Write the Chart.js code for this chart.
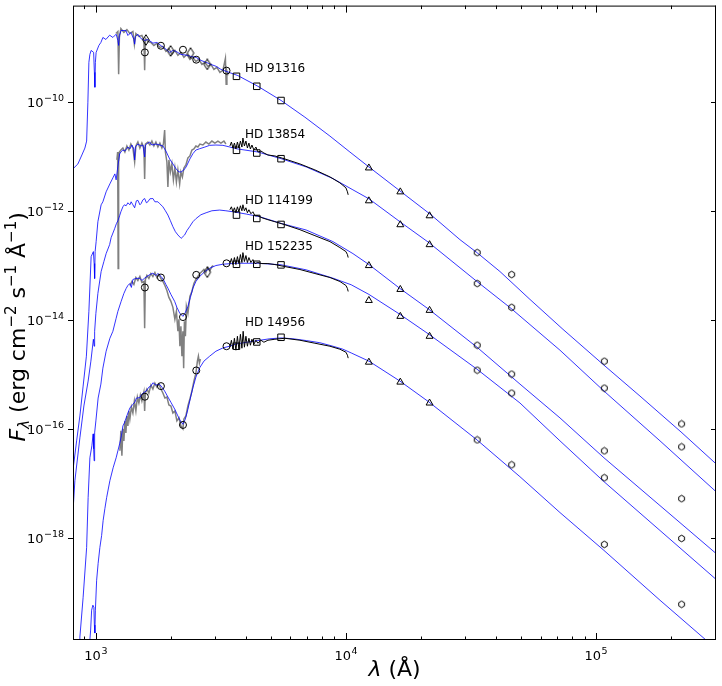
<!DOCTYPE html>
<html>
<head>
<meta charset="utf-8">
<script src="https://cdn.jsdelivr.net/npm/chart.js@4.4.0/dist/chart.umd.min.js"></script>
<style>
  html, body { margin: 0; padding: 0; background: #fff; }
  #sed { display: block; }
</style>
</head>
<body>
<canvas id="sed" width="722" height="686"></canvas>
<script>
// All curve values are log10(lambda / A) and log10(F_lambda).

// ---- HD 91316 ----
const m1Lam = [2.908,2.928,2.944,2.956,2.963,2.968,2.972,2.976,2.981,2.991,2.994,2.996,2.998,3.001,3.012,3.020,3.028,3.040,3.055,3.068,3.081,3.088,3.091,3.094,3.101,3.120,3.128,3.140,3.152,3.155,3.158,3.168,3.180,3.195,3.208,3.228,3.244,3.261,3.276,3.295,3.308,3.321,3.340,3.361,3.380,3.401,3.420,3.441,3.460,3.481,3.500,3.521,3.568,3.648,3.741,3.836,3.936,4.016,4.092,4.216,4.340,4.456,4.524,4.616,4.736,4.868,5.032,5.176,5.340,5.480,5.504];
const m1Flux = [-11.230,-11.139,-10.974,-10.847,-10.719,-10.006,-9.274,-9.128,-9.055,-9.091,-9.457,-9.731,-9.274,-9.091,-8.963,-8.909,-8.817,-8.854,-8.775,-8.817,-8.757,-8.872,-8.963,-8.781,-8.689,-8.689,-8.781,-8.726,-8.854,-8.940,-8.799,-8.757,-8.836,-8.872,-8.854,-8.921,-8.909,-8.969,-9.018,-9.091,-9.055,-9.073,-9.128,-9.141,-9.165,-9.183,-9.238,-9.274,-9.311,-9.347,-9.402,-9.439,-9.517,-9.713,-9.974,-10.280,-10.627,-10.920,-11.194,-11.633,-12.071,-12.528,-12.766,-13.113,-13.625,-14.174,-14.832,-15.399,-16.057,-16.642,-16.733];
const g1Lam = [3.080,3.088,3.091,3.094,3.100,3.112,3.124,3.136,3.148,3.154,3.160,3.172,3.184,3.192,3.195,3.198,3.208,3.220,3.232,3.244,3.256,3.268,3.280,3.292,3.304,3.316,3.328,3.340,3.352,3.364,3.376,3.388,3.400,3.412,3.424,3.436,3.448,3.460,3.472,3.484,3.496,3.508,3.518,3.521,3.524,3.528];
const g1Flux = [-8.744,-8.707,-9.493,-8.817,-8.652,-8.725,-8.671,-8.744,-8.707,-8.945,-8.744,-8.799,-8.780,-8.872,-9.420,-8.835,-8.890,-8.908,-8.963,-8.927,-9.000,-8.981,-9.073,-9.018,-9.128,-9.055,-9.146,-9.091,-9.183,-9.128,-9.219,-9.183,-9.256,-9.219,-9.310,-9.274,-9.347,-9.311,-9.402,-9.365,-9.457,-9.420,-9.201,-9.676,-9.438,-9.512];

// ---- HD 13854 ----
const m2Lam = [2.908,2.923,2.936,2.949,2.962,2.972,2.981,2.990,2.993,2.995,2.997,3.001,3.008,3.021,3.028,3.041,3.056,3.068,3.076,3.081,3.086,3.095,3.100,3.108,3.116,3.128,3.136,3.144,3.152,3.155,3.158,3.168,3.180,3.188,3.195,3.198,3.208,3.215,3.224,3.240,3.256,3.268,3.280,3.295,3.308,3.321,3.332,3.341,3.352,3.361,3.376,3.388,3.400,3.415,3.436,3.455,3.480,3.508,3.536,3.561,3.648,3.741,3.841,3.948,4.028,4.092,4.216,4.332,4.524,4.660,4.856,5.032,5.256,5.480,5.504];
const m2Flux = [-16.769,-16.221,-15.764,-15.215,-14.667,-13.844,-12.839,-12.747,-12.967,-13.241,-12.747,-12.564,-12.199,-11.888,-11.833,-11.650,-11.504,-11.394,-11.321,-11.431,-11.248,-10.956,-10.919,-10.883,-10.901,-10.828,-10.864,-10.791,-10.864,-11.065,-10.828,-10.773,-10.809,-10.791,-11.011,-10.791,-10.755,-10.736,-10.791,-10.773,-10.791,-10.809,-10.901,-11.047,-11.138,-11.230,-11.285,-11.285,-11.248,-11.193,-11.047,-10.950,-10.883,-10.859,-10.828,-10.797,-10.791,-10.797,-10.828,-10.859,-10.919,-11.042,-11.193,-11.407,-11.614,-11.778,-12.199,-12.583,-13.296,-13.789,-14.557,-15.307,-16.221,-17.153,-17.245];
const g2Lam = [3.084,3.087,3.088,3.089,3.091,3.094,3.100,3.108,3.116,3.124,3.132,3.140,3.148,3.155,3.160,3.168,3.176,3.184,3.192,3.195,3.198,3.208,3.216,3.224,3.232,3.240,3.248,3.256,3.264,3.270,3.275,3.278,3.284,3.288,3.292,3.298,3.304,3.310,3.316,3.322,3.328,3.335,3.340,3.346,3.352,3.360,3.368,3.376,3.384,3.392,3.400,3.408,3.416,3.428,3.440,3.452,3.464,3.476,3.488,3.500,3.512,3.520];
const g2Flux = [-11.065,-10.919,-11.833,-13.058,-11.102,-10.919,-10.883,-10.846,-10.919,-10.809,-10.883,-10.773,-10.846,-11.102,-10.809,-10.736,-10.846,-10.755,-10.846,-11.413,-10.773,-10.736,-10.791,-10.718,-10.809,-10.736,-10.828,-10.755,-10.846,-10.773,-10.517,-10.919,-11.102,-11.559,-11.065,-11.285,-11.138,-11.431,-11.212,-11.468,-11.248,-11.504,-11.285,-11.376,-11.212,-11.157,-11.029,-10.992,-10.883,-10.864,-10.809,-10.828,-10.773,-10.791,-10.736,-10.773,-10.718,-10.755,-10.718,-10.755,-10.718,-10.773];
const b2Lam = [3.536,3.542,3.548,3.554,3.560,3.566,3.572,3.578,3.584,3.588,3.594,3.600,3.606,3.612,3.618,3.624,3.632,3.640,3.648,3.660,3.672,3.688,3.716,3.756,3.816,3.876,3.936,3.976,4.000,4.006,4.009];
const b2Flux = [-10.809,-10.736,-10.846,-10.755,-10.864,-10.736,-10.846,-10.718,-10.828,-10.663,-10.809,-10.718,-10.846,-10.755,-10.864,-10.791,-10.883,-10.828,-10.919,-10.901,-10.937,-10.974,-10.992,-11.047,-11.138,-11.248,-11.376,-11.486,-11.577,-11.650,-11.705];

// ---- HD 114199 ----
const m3Lam = [2.908,2.916,2.936,2.952,2.969,2.980,2.990,2.993,2.995,3.000,3.008,3.021,3.032,3.041,3.055,3.061,3.075,3.082,3.088,3.095,3.100,3.108,3.114,3.121,3.128,3.136,3.141,3.148,3.155,3.162,3.168,3.176,3.181,3.188,3.195,3.202,3.208,3.216,3.228,3.236,3.248,3.256,3.268,3.278,3.288,3.298,3.308,3.318,3.328,3.341,3.355,3.364,3.375,3.388,3.401,3.420,3.441,3.464,3.495,3.520,3.548,3.601,3.655,3.741,3.841,3.948,4.028,4.092,4.216,4.332,4.524,4.696,4.856,5.032,5.256,5.480,5.504];
const m3Flux = [-17.555,-16.952,-16.166,-15.581,-15.124,-14.758,-14.356,-14.484,-14.210,-13.881,-13.515,-13.113,-12.930,-12.784,-12.619,-12.491,-12.327,-12.235,-12.181,-12.089,-12.016,-11.925,-11.888,-11.906,-11.851,-11.888,-11.833,-11.888,-11.943,-11.815,-11.806,-11.888,-11.864,-11.797,-11.773,-11.851,-11.833,-11.778,-11.773,-11.833,-11.833,-11.870,-11.925,-11.998,-12.076,-12.181,-12.290,-12.382,-12.442,-12.504,-12.442,-12.363,-12.290,-12.199,-12.139,-12.071,-12.034,-11.998,-11.985,-11.998,-12.016,-12.058,-12.107,-12.230,-12.351,-12.564,-12.784,-12.985,-13.424,-13.808,-14.502,-15.179,-15.800,-16.532,-17.409,-18.287,-18.378];
const b3Lam = [3.536,3.542,3.548,3.554,3.560,3.566,3.572,3.578,3.584,3.588,3.594,3.600,3.606,3.612,3.620,3.628,3.636,3.648,3.664,3.688,3.716,3.756,3.816,3.876,3.936,3.976,4.000,4.006,4.009];
const b3Flux = [-11.979,-11.925,-12.016,-11.943,-12.034,-11.925,-12.016,-11.906,-11.998,-11.888,-11.998,-11.943,-12.034,-11.979,-12.053,-12.016,-12.089,-12.089,-12.126,-12.162,-12.199,-12.254,-12.345,-12.455,-12.564,-12.674,-12.747,-12.802,-12.857];

// ---- HD 152235 ----
const m4Lam = [2.934,2.936,2.949,2.963,2.969,2.976,2.984,2.989,2.991,2.993,2.995,3.000,3.009,3.020,3.028,3.041,3.056,3.068,3.081,3.088,3.101,3.112,3.121,3.128,3.136,3.142,3.148,3.160,3.175,3.184,3.195,3.204,3.216,3.228,3.240,3.248,3.261,3.272,3.280,3.288,3.300,3.315,3.324,3.335,3.348,3.358,3.368,3.378,3.388,3.400,3.415,3.436,3.455,3.480,3.508,3.561,3.648,3.741,3.841,3.948,4.021,4.092,4.216,4.332,4.524,4.696,4.856,5.032,5.256,5.480,5.504];
const m4Flux = [-19.969,-19.822,-19.091,-18.177,-17.263,-16.532,-16.312,-16.093,-16.367,-16.587,-16.075,-15.855,-15.435,-15.179,-14.886,-14.576,-14.338,-14.210,-13.972,-13.844,-13.661,-13.515,-13.424,-13.369,-13.332,-13.405,-13.259,-13.241,-13.235,-13.277,-13.235,-13.204,-13.168,-13.144,-13.186,-13.150,-13.204,-13.277,-13.351,-13.418,-13.533,-13.661,-13.771,-13.875,-13.936,-13.863,-13.753,-13.588,-13.418,-13.296,-13.204,-13.113,-13.053,-13.003,-12.979,-12.961,-12.961,-12.990,-13.082,-13.235,-13.356,-13.533,-13.899,-14.265,-14.905,-15.526,-16.221,-16.970,-17.866,-18.762,-18.853];
const g4Lam = [3.136,3.144,3.152,3.160,3.168,3.176,3.184,3.192,3.195,3.198,3.204,3.212,3.220,3.228,3.236,3.244,3.252,3.260,3.268,3.276,3.284,3.292,3.300,3.308,3.316,3.322,3.328,3.332,3.336,3.340,3.344,3.348,3.351,3.354,3.358,3.362,3.368,3.376,3.384,3.392,3.400,3.408,3.416,3.424,3.432,3.440,3.448,3.456,3.464,3.470];
const g4Flux = [-13.369,-13.296,-13.351,-13.223,-13.277,-13.204,-13.314,-13.296,-14.155,-13.259,-13.186,-13.241,-13.150,-13.204,-13.131,-13.223,-13.168,-13.241,-13.296,-13.369,-13.460,-13.588,-13.661,-13.771,-13.990,-13.844,-14.210,-13.990,-14.484,-14.118,-14.667,-14.210,-14.886,-14.027,-14.301,-13.753,-13.881,-13.570,-13.479,-13.332,-13.259,-13.204,-13.150,-13.113,-13.076,-13.131,-13.040,-13.095,-13.022,-13.003];
const b4Lam = [3.536,3.542,3.548,3.554,3.560,3.566,3.572,3.578,3.584,3.588,3.594,3.600,3.606,3.612,3.620,3.628,3.636,3.648,3.664,3.688,3.716,3.756,3.816,3.876,3.936,3.976,4.000,4.006,4.009];
const b4Flux = [-12.967,-12.875,-12.985,-12.857,-12.985,-12.839,-12.967,-12.802,-12.948,-12.766,-12.930,-12.820,-12.948,-12.857,-12.948,-12.894,-12.967,-12.948,-12.967,-12.967,-12.985,-13.022,-13.076,-13.150,-13.223,-13.296,-13.369,-13.424,-13.479];

// ---- HD 14956 ----
const m5Lam = [2.976,2.979,2.983,2.988,2.992,2.994,2.996,2.998,3.003,3.009,3.016,3.023,3.029,3.036,3.043,3.056,3.069,3.081,3.088,3.095,3.102,3.108,3.114,3.121,3.128,3.136,3.148,3.156,3.162,3.175,3.184,3.195,3.201,3.212,3.220,3.228,3.240,3.255,3.264,3.275,3.288,3.301,3.315,3.328,3.338,3.348,3.358,3.368,3.378,3.388,3.400,3.415,3.432,3.455,3.480,3.508,3.535,3.561,3.604,3.648,3.696,3.741,3.788,3.841,3.896,3.948,3.988,4.021,4.092,4.216,4.332,4.524,4.696,4.856,5.032,5.256,5.440,5.480];
const m5Flux = [-19.877,-19.694,-19.329,-19.237,-19.274,-19.603,-19.749,-19.329,-18.780,-18.470,-18.177,-17.958,-17.683,-17.464,-17.263,-16.952,-16.715,-16.532,-16.404,-16.276,-16.129,-15.947,-15.892,-15.800,-15.709,-15.618,-15.550,-15.508,-15.435,-15.429,-15.362,-15.325,-15.307,-15.234,-15.215,-15.155,-15.197,-15.184,-15.234,-15.307,-15.416,-15.521,-15.636,-15.764,-15.855,-15.916,-15.819,-15.641,-15.435,-15.246,-15.051,-14.881,-14.758,-14.667,-14.576,-14.515,-14.484,-14.442,-14.411,-14.380,-14.347,-14.332,-14.347,-14.380,-14.420,-14.484,-14.539,-14.607,-14.758,-15.124,-15.508,-16.203,-16.879,-17.537,-18.232,-19.146,-19.877,-20.042];
const g5Lam = [3.096,3.100,3.104,3.108,3.112,3.116,3.120,3.124,3.128,3.132,3.136,3.142,3.148,3.154,3.160,3.166,3.172,3.178,3.184,3.192,3.195,3.198,3.204,3.212,3.220,3.228,3.236,3.244,3.252,3.260,3.268,3.276,3.284,3.292,3.300,3.308,3.316,3.324,3.332,3.340,3.348,3.352,3.360,3.368,3.376,3.384,3.392,3.400,3.406,3.410,3.414,3.418];
const g5Flux = [-16.404,-16.038,-16.495,-16.001,-16.221,-15.855,-16.075,-15.764,-15.947,-15.672,-15.819,-15.599,-15.709,-15.490,-15.672,-15.416,-15.526,-15.380,-15.490,-15.325,-15.672,-15.343,-15.270,-15.343,-15.197,-15.270,-15.161,-15.234,-15.179,-15.270,-15.343,-15.435,-15.416,-15.563,-15.581,-15.709,-15.672,-15.855,-15.800,-15.947,-16.001,-15.819,-15.764,-15.581,-15.453,-15.307,-15.124,-14.978,-14.758,-14.667,-14.795,-14.722];
const b5Lam = [3.536,3.542,3.548,3.554,3.560,3.566,3.572,3.578,3.584,3.589,3.594,3.600,3.606,3.612,3.618,3.624,3.632,3.640,3.648,3.660,3.672,3.688,3.716,3.756,3.816,3.876,3.936,3.976,4.000,4.006,4.009];
const b5Flux = [-14.502,-14.374,-14.539,-14.338,-14.557,-14.301,-14.539,-14.265,-14.521,-14.210,-14.502,-14.301,-14.484,-14.338,-14.466,-14.356,-14.448,-14.374,-14.429,-14.374,-14.411,-14.374,-14.356,-14.338,-14.374,-14.429,-14.484,-14.539,-14.594,-14.649,-14.703];

// photometric band wavelengths (A)
const ansLam = [1570, 1820, 2230, 2520, 3330];
const td1Lam = [1585, 1990, 2390, 2790];
const ubvLam = [3650, 4400, 5500];
const jhkLam = [12350, 16500, 21600];
const wiseLam = [33500, 46000, 108000, 220000];

// photometry, log10 F_lambda (null = not measured)
const s1Ans = [-9.091, -8.969, -9.042, -9.225, -9.426];
const s1Td1 = [-8.863, -9.064, -9.104, -9.311];
const s1Ubv = [-9.530, -9.713, -9.974];
const s1Jhk = [-11.212, -11.651, -12.090];
const s1Wise = [-12.766, -13.168, -14.759, -15.910];
const s2Ubv = [-10.888, -10.938, -11.042];
const s2Jhk = [-11.815, -12.254, -12.620];
const s2Wise = [-13.333, -13.771, -15.252, -16.331];
const s3Ubv = [-12.077, -12.139, -12.249];
const s3Jhk = [-13.004, -13.442, -13.826];
const s3Wise = [-14.466, -14.996, -16.404, -17.282];
const s4Ans = [-13.406, -13.223, -13.949, -13.174, -12.962];
const s4Td1 = [null, null, null, -13.126];
const s4Ubv = [-12.980, -12.980, -12.991];
const s4Jhk = [-13.644, -13.936, -14.302];
const s4Wise = [-14.923, -15.344, -16.898, -18.013];
const s5Ans = [-15.411, -15.216, -15.929, -14.929, -14.484];
const s5Ubv = [-14.484, -14.406, -14.320];
const s5Jhk = [-14.777, -15.143, -15.527];
const s5Wise = [-16.203, -16.660, -18.122, -19.220];

// star name annotations
const starNames = ["HD 91316", "HD 13854", "HD 114199", "HD 152235", "HD 14956"];
const nameLam = [3945, 3945, 3945, 3945, 3945];
const nameFlux = [-9.396, -10.608, -11.809, -12.656, -14.058];

const yTickExps = [-18, -16, -14, -12, -10];
const xTickExps = [3, 4, 5];

const FONT = '"DejaVu Sans", "Liberation Sans", sans-serif';

function toPoints(logLam, logFlux) {
  const pts = [];
  const n = Math.min(logLam.length, logFlux.length);
  for (let i = 0; i < n; i++) {
    pts.push({ x: Math.pow(10, logLam[i]), y: Math.pow(10, logFlux[i]) });
  }
  return pts;
}

function bandPoints(lam, logFlux) {
  const pts = [];
  lam.forEach((l, i) => {
    if (logFlux[i] != null) pts.push({ x: l, y: Math.pow(10, logFlux[i]) });
  });
  return pts;
}

function makeMarker(w, h, path) {
  const c = document.createElement("canvas");
  c.width = w;
  c.height = h;
  const g = c.getContext("2d");
  g.strokeStyle = "#000";
  g.lineWidth = 1;
  g.beginPath();
  path(g);
  g.closePath();
  g.stroke();
  return c;
}

// matplotlib-like thin diamond and hexagon
const thinDiamond = makeMarker(10, 12, (g) => {
  g.moveTo(5, 0.7);
  g.lineTo(8.3, 6);
  g.lineTo(5, 11.3);
  g.lineTo(1.7, 6);
});
const hexagon = makeMarker(9, 9, (g) => {
  for (let k = 0; k < 6; k++) {
    const a = -Math.PI / 2 + (k * Math.PI) / 3;
    const px = 4.5 + 3.3 * Math.cos(a);
    const py = 4.5 + 3.3 * Math.sin(a);
    if (k === 0) g.moveTo(px, py);
    else g.lineTo(px, py);
  }
});

const curve = (lam, flux, color, width, order) => ({
  data: toPoints(lam, flux),
  showLine: true,
  borderColor: color,
  borderWidth: width,
  pointRadius: 0,
  fill: false,
  tension: 0,
  order: order,
});

const marks = (lam, flux, style, radius) => ({
  data: bandPoints(lam, flux),
  showLine: false,
  pointStyle: style,
  pointRadius: radius,
  pointBorderColor: "#000",
  pointBackgroundColor: "rgba(0,0,0,0)",
  pointBorderWidth: 1,
  order: 0,
});

const BLUE = "#0000ff";
const GRAY = "#808080";

const datasets = [
  // observed UV spectra (grey)
  curve(g1Lam, g1Flux, GRAY, 1.5, 3),
  curve(g2Lam, g2Flux, GRAY, 1.5, 3),
  curve(g4Lam, g4Flux, GRAY, 1.5, 3),
  curve(g5Lam, g5Flux, GRAY, 1.5, 3),
  // models (blue)
  curve(m1Lam, m1Flux, BLUE, 0.8, 2),
  curve(m2Lam, m2Flux, BLUE, 0.8, 2),
  curve(m3Lam, m3Flux, BLUE, 0.8, 2),
  curve(m4Lam, m4Flux, BLUE, 0.8, 2),
  curve(m5Lam, m5Flux, BLUE, 0.8, 2),
  // optical spectra (black)
  curve(b2Lam, b2Flux, "#000", 1, 1),
  curve(b3Lam, b3Flux, "#000", 1, 1),
  curve(b4Lam, b4Flux, "#000", 1, 1),
  curve(b5Lam, b5Flux, "#000", 1, 1),
  // photometry
  marks(ansLam, s1Ans, "circle", 3.5),
  marks(td1Lam, s1Td1, thinDiamond, 3),
  marks(ubvLam, s1Ubv, "rect", 4.6),
  marks(jhkLam, s1Jhk, "triangle", 4),
  marks(wiseLam, s1Wise, hexagon, 3),
  marks(ubvLam, s2Ubv, "rect", 4.6),
  marks(jhkLam, s2Jhk, "triangle", 4),
  marks(wiseLam, s2Wise, hexagon, 3),
  marks(ubvLam, s3Ubv, "rect", 4.6),
  marks(jhkLam, s3Jhk, "triangle", 4),
  marks(wiseLam, s3Wise, hexagon, 3),
  marks(ansLam, s4Ans, "circle", 3.5),
  marks(td1Lam, s4Td1, thinDiamond, 3),
  marks(ubvLam, s4Ubv, "rect", 4.6),
  marks(jhkLam, s4Jhk, "triangle", 4),
  marks(wiseLam, s4Wise, hexagon, 3),
  marks(ansLam, s5Ans, "circle", 3.5),
  marks(ubvLam, s5Ubv, "rect", 4.6),
  marks(jhkLam, s5Jhk, "triangle", 4),
  marks(wiseLam, s5Wise, hexagon, 3),
];

// "10" with a superscript exponent, like matplotlib mathtext
function drawPower(ctx, exp, x, y, align) {
  const sup = exp < 0 ? "\u2212" + Math.abs(exp) : String(exp);
  ctx.font = "13px " + FONT;
  const wb = ctx.measureText("10").width;
  ctx.font = "9.5px " + FONT;
  const ws = ctx.measureText(sup).width;
  const total = wb + 0.5 + ws;
  const x0 = align === "right" ? x - total : x - total / 2;
  ctx.textAlign = "left";
  ctx.textBaseline = "alphabetic";
  ctx.font = "13px " + FONT;
  ctx.fillText("10", x0, y);
  ctx.font = "9.5px " + FONT;
  ctx.fillText(sup, x0 + wb + 0.5, y - 6);
}

function drawRich(ctx, parts, x, y, rotate) {
  ctx.save();
  ctx.translate(x, y);
  if (rotate) ctx.rotate(-Math.PI / 2);
  ctx.textAlign = "left";
  ctx.textBaseline = "alphabetic";
  let total = 0;
  parts.forEach((p) => {
    ctx.font = p.font;
    p.w = ctx.measureText(p.text).width;
    total += p.w;
  });
  let cx = -total / 2;
  parts.forEach((p) => {
    ctx.font = p.font;
    ctx.fillText(p.text, cx, p.dy || 0);
    cx += p.w;
  });
  ctx.restore();
}

const axesDecor = {
  id: "axesDecor",
  afterDraw(chart) {
    const { ctx, chartArea: a } = chart;
    const xs = chart.scales.x;
    const ys = chart.scales.y;
    ctx.save();
    ctx.strokeStyle = "#000";
    ctx.fillStyle = "#000";
    ctx.lineWidth = 1;

    // frame
    ctx.strokeRect(a.left + 0.5, a.top + 0.5, a.right - a.left - 1, a.bottom - a.top - 1);

    // x ticks (inward, top and bottom)
    ctx.beginPath();
    for (let d = 2; d <= 5; d++) {
      for (let m = 1; m <= 9; m++) {
        const v = m * Math.pow(10, d);
        if (v < xs.min || v > xs.max) continue;
        const px = Math.round(xs.getPixelForValue(v)) + 0.5;
        const len = m === 1 ? 7 : 3.5;
        ctx.moveTo(px, a.bottom);
        ctx.lineTo(px, a.bottom - len);
        ctx.moveTo(px, a.top);
        ctx.lineTo(px, a.top + len);
      }
    }
    // y ticks (pointing left on both sides)
    yTickExps.forEach((e) => {
      const py = Math.round(ys.getPixelForValue(Math.pow(10, e))) + 0.5;
      ctx.moveTo(a.left - 5, py);
      ctx.lineTo(a.left, py);
      ctx.moveTo(a.right - 5, py);
      ctx.lineTo(a.right, py);
    });
    ctx.stroke();

    // tick labels
    yTickExps.forEach((e) => {
      const py = ys.getPixelForValue(Math.pow(10, e));
      drawPower(ctx, e, a.left - 9, py + 5.5, "right");
    });
    xTickExps.forEach((e) => {
      const px = xs.getPixelForValue(Math.pow(10, e));
      drawPower(ctx, e, px, a.bottom + 20, "center");
    });

    // star names
    ctx.font = "12px " + FONT;
    ctx.textAlign = "left";
    ctx.textBaseline = "middle";
    starNames.forEach((name, i) => {
      const px = xs.getPixelForValue(nameLam[i]);
      const py = ys.getPixelForValue(Math.pow(10, nameFlux[i]));
      ctx.fillText(name, px, py);
    });

    // axis titles
    const big = "22px " + FONT;
    const bigIt = "italic 22px " + FONT;
    const small = "15px " + FONT;
    const smallIt = "italic 15px " + FONT;
    drawRich(ctx, [
      { text: "\u03bb", font: bigIt },
      { text: " (\u00c5)", font: big },
    ], (a.left + a.right) / 2, 676, false);
    drawRich(ctx, [
      { text: "F", font: bigIt },
      { text: "\u03bb", font: smallIt, dy: 4 },
      { text: " (erg cm", font: big },
      { text: "\u22122", font: small, dy: -9 },
      { text: " s", font: big },
      { text: "\u22121", font: small, dy: -9 },
      { text: " \u00c5", font: big },
      { text: "\u22121", font: small, dy: -9 },
      { text: ")", font: big },
    ], 25, (a.top + a.bottom) / 2 + 4, true);

    ctx.restore();
  },
};

new Chart(document.getElementById("sed").getContext("2d"), {
  type: "scatter",
  data: { datasets: datasets },
  options: {
    responsive: false,
    animation: false,
    devicePixelRatio: 1,
    layout: { padding: { top: 3, right: 6, left: 0, bottom: 0 } },
    plugins: {
      legend: { display: false },
      tooltip: { enabled: false },
    },
    scales: {
      x: {
        type: "logarithmic",
        position: "bottom",
        min: 810,
        max: 302000,
        ticks: { display: false },
        grid: { display: false },
        border: { display: false },
        afterFit: (s) => { s.height = 46; },
      },
      y: {
        type: "logarithmic",
        position: "left",
        min: 1.33e-20,
        max: 5.86e-9,
        ticks: { display: false },
        grid: { display: false },
        border: { display: false },
        afterFit: (s) => { s.width = 73; },
      },
    },
  },
  plugins: [axesDecor],
});
</script>
</body>
</html>
